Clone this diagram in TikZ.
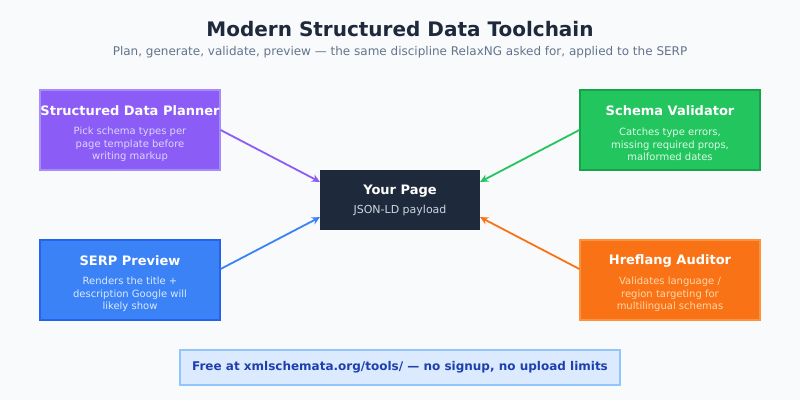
\documentclass[tikz,border=0pt]{standalone}
\usepackage{fontspec}
\setmainfont{DejaVu Sans}
\usetikzlibrary{arrows.meta,calc}
\definecolor{bg}{HTML}{F8FAFC}
\definecolor{ink}{HTML}{1E293B}
\definecolor{sub}{HTML}{64748B}
\definecolor{purp}{HTML}{8B5CF6}
\definecolor{purpb}{HTML}{A78BFA}
\definecolor{purpt}{HTML}{DDD6FE}
\definecolor{blu}{HTML}{3B82F6}
\definecolor{blub}{HTML}{2563EB}
\definecolor{blut}{HTML}{DBEAFE}
\definecolor{grn}{HTML}{22C55E}
\definecolor{grnb}{HTML}{16A34A}
\definecolor{grnt}{HTML}{DCFCE7}
\definecolor{org}{HTML}{F97316}
\definecolor{orgb}{HTML}{FB923C}
\definecolor{orgt}{HTML}{FED7AA}
\definecolor{pgt}{HTML}{CBD5E1}
\definecolor{notefill}{HTML}{DBEAFE}
\definecolor{notebd}{HTML}{93C5FD}
\definecolor{notetxt}{HTML}{1E40AF}
\begin{document}
\begin{tikzpicture}[x=1pt,y=-1pt,
  toolbox/.style={draw=#1,line width=1.2pt,minimum width=180pt,minimum height=80pt,inner sep=0pt},
  ttl/.style={font=\fontsize{13}{15}\selectfont\bfseries,text=white},
  dsc/.style={font=\fontsize{10}{12.5}\selectfont,align=center,text=#1},
  conn/.style={draw=#1,line width=1.8pt,-{Stealth[length=8pt,width=8pt]}}]
\fill[bg] (0,0) rectangle (800,400);
\useasboundingbox (0,0) rectangle (800,400);
\node[font=\fontsize{20}{23}\selectfont\bfseries,text=ink] (title) at (400,29) {Modern Structured Data Toolchain};
\node[font=\fontsize{12}{14}\selectfont,text=sub] (subtitle) at (400,52) {Plan, generate, validate, preview — the same discipline RelaxNG asked for, applied to the SERP};

\node[toolbox=purpb,fill=purp] (plan) at (130,130) {};
\node[ttl] (planT) at (130,111) {Structured Data Planner};
\node[dsc=purpt] (planD) at (130,144.5) {Pick schema types per\\page template before\\writing markup};

\node[toolbox=blub,fill=blu] (serp) at (130,280) {};
\node[ttl] (serpT) at (130,261) {SERP Preview};
\node[dsc=blut] (serpD) at (130,294.5) {Renders the title +\\description Google will\\likely show};

\node[toolbox=grnb,fill=grn] (val) at (670,130) {};
\node[ttl] (valT) at (670,111) {Schema Validator};
\node[dsc=grnt] (valD) at (670,144.5) {Catches type errors,\\missing required props,\\malformed dates};

\node[toolbox=orgb,fill=org] (href) at (670,280) {};
\node[ttl] (hrefT) at (670,261) {Hreflang Auditor};
\node[dsc=orgt] (hrefD) at (670,294.5) {Validates language /\\region targeting for\\multilingual schemas};

\node[fill=ink,minimum width=160pt,minimum height=60pt,inner sep=0pt] (page) at (400,200) {};
\node[font=\fontsize{13}{15}\selectfont\bfseries,text=white] (pageT) at (400,191) {Your Page};
\node[font=\fontsize{11}{13}\selectfont,text=pgt] (pageD) at (400,210) {JSON-LD payload};

\coordinate (inPlan) at ($(page.north west)+(0,12)$);
\coordinate (inSerp) at ($(page.south west)+(0,-13)$);
\coordinate (inVal) at ($(page.north east)+(0,12)$);
\coordinate (inHref) at ($(page.south east)+(0,-13)$);
\draw[conn=purp] (plan.east) -- (inPlan);
\draw[conn=blu] ($(serp.east)+(0,-11)$) -- (inSerp);
\draw[conn=grn] (val.west) -- (inVal);
\draw[conn=org] ($(href.west)+(0,-11)$) -- (inHref);

\node[draw=notebd,line width=1.2pt,fill=notefill,minimum width=440pt,minimum height=35pt,inner sep=0pt,
  font=\fontsize{12}{14}\selectfont\bfseries,text=notetxt] (note) at (400,367.5) {Free at xmlschemata.org/tools/ — no signup, no upload limits};
\end{tikzpicture}
\end{document}
